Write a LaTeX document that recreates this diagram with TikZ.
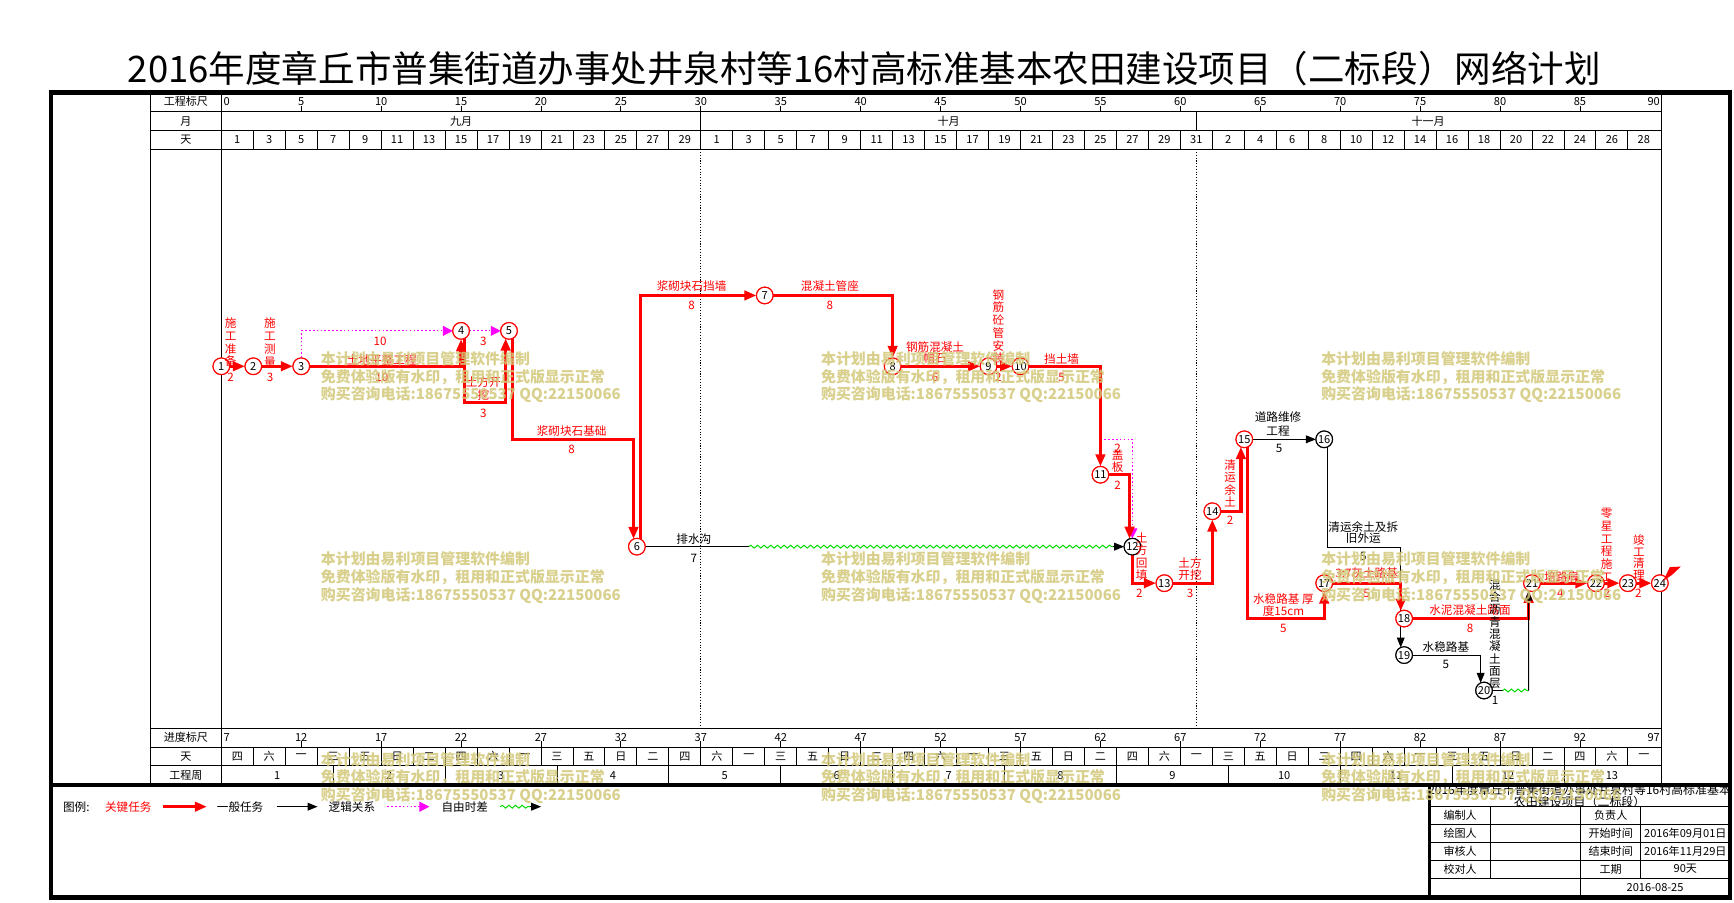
\documentclass[tikz,border=0pt]{standalone}
\usepackage{fontspec}
\setmainfont{Noto Sans CJK SC}
\usetikzlibrary{arrows.meta,decorations.pathmorphing}
\definecolor{crc}{RGB}{255,0,0}
\definecolor{mgc}{RGB}{255,0,255}
\definecolor{gwc}{RGB}{0,220,0}
\definecolor{wmc}{RGB}{210,200,120}
\def\dx{14.4444}
\begin{document}
\begin{tikzpicture}[x=1pt,y=-1pt,
 every node/.style={inner sep=0pt, outer sep=0pt, font=\fontsize{10.5}{11.5}\selectfont},
 grid/.style={line width=0.8pt},
 crit/.style={draw=crc, line width=3pt, -{Triangle[length=11pt,width=8.5pt]}},
 gen/.style={draw=black, line width=0.9pt, -{Triangle[length=9pt,width=7pt]}},
 genline/.style={draw=black, line width=0.9pt},
 lgc/.style={draw=mgc, line width=1pt, dash pattern=on 1.5pt off 2pt, -{Triangle[length=9pt,width=9pt]}},
 wav/.style={draw=gwc, line width=0.9pt, decorate, decoration={snake, segment length=6pt, amplitude=1.3pt}},
 cn/.style={circle, draw=crc, line width=1pt, fill=white, minimum size=15pt, inner sep=0pt, font=\fontsize{10}{10}\selectfont},
 gn/.style={cn, draw=black},
 rl/.style={text=crc},
 vl/.style={align=center},
 hd/.style={font=\fontsize{10}{11}\selectfont},
 wm/.style={anchor=west, align=left, text=wmc, font=\fontsize{13.5}{16}\selectfont\bfseries, opacity=0.85}
]
\useasboundingbox (0,0) rectangle (1567,816);
\fill[white] (0,0) rectangle (1567,816);

% title
\node[font=\fontsize{33}{36}\selectfont] (title) at (781,62) {2016年度章丘市普集街道办事处井泉村等16村高标准基本农田建设项目（二标段）网络计划};

% ---------- table grid ----------
\foreach \yy in {101,118,135,658,675,692} \draw[grid] (136,\yy) -- (1501,\yy);
\foreach \xx in {136,200,1501} \draw[grid] (\xx,83.5) -- (\xx,709.5);
\foreach \t in {30,61} \draw[grid] ({200+\t*\dx},101) -- ({200+\t*\dx},118);
\foreach \k in {1,...,44} {
  \draw[grid] ({200+2*\k*\dx},118) -- ({200+2*\k*\dx},135);
  \draw[grid] ({200+2*\k*\dx},675) -- ({200+2*\k*\dx},692);
}
\foreach \k in {1,...,12} \draw[grid] ({200+7*\k*\dx},692) -- ({200+7*\k*\dx},709.5);
\foreach \k in {1,...,17} {
  \draw[grid] ({200+5*\k*\dx},96) -- ({200+5*\k*\dx},101);
  \draw[grid] ({200+5*\k*\dx},670) -- ({200+5*\k*\dx},675);
}
\foreach \t in {30,61} \draw[line width=0.7pt, dash pattern=on 1pt off 1.5pt] ({200+\t*\dx},135) -- ({200+\t*\dx},658);

% header labels
\node[hd] (h1) at (168,92) {工程标尺};
\node[hd] (h2) at (168,109.5) {月};
\node[hd] (h3) at (168,126.5) {天};
\node[hd] (h4) at (168,666.5) {进度标尺};
\node[hd] (h5) at (168,683.5) {天};
\node[hd] (h6) at (168,700.7) {工程周};
\node[hd, anchor=west] (s0) at (202,92) {0};
\node[hd, anchor=east] (s90) at (1500,92) {90};
\foreach \k [evaluate=\k as \v using int(5*\k)] in {1,...,17}
  \node[hd] (s\k) at ({200+5*\k*\dx},92) {\v};
\node[hd, anchor=west] (p0) at (202,666.5) {7};
\node[hd, anchor=east] (p90) at (1500,666.5) {97};
\foreach \k [evaluate=\k as \v using int(7+5*\k)] in {1,...,17}
  \node[hd] (p\k) at ({200+5*\k*\dx},666.5) {\v};
\node[hd] (m9) at ({200+15*\dx},109.5) {九月};
\node[hd] (m10) at ({200+45.5*\dx},109.5) {十月};
\node[hd] (m11) at ({200+75.5*\dx},109.5) {十一月};
\foreach \lab [count=\i from 0] in {1,3,5,7,9,11,13,15,17,19,21,23,25,27,29,1,3,5,7,9,11,13,15,17,19,21,23,25,27,29,31,2,4,6,8,10,12,14,16,18,20,22,24,26,28}
  \node[hd] (dy\i) at ({200+(2*\i+1)*\dx},126.5) {\lab};
\foreach \lab [count=\i from 0] in {四,六,一,三,五,日,二,四,六,一,三,五,日,二,四,六,一,三,五,日,二,四,六,一,三,五,日,二,四,六,一,三,五,日,二,四,六,一,三,五,日,二,四,六,一}
  \node[hd] (wd\i) at ({200+(2*\i+1)*\dx},683.5) {\lab};
\foreach \k in {1,...,12}
  \node[hd] (wk\k) at ({200+(7*\k-3.5)*\dx},700.7) {\k};
\node[hd] (wk13) at ({200+87*\dx},700.7) {13};

% ---------- network nodes ----------
\node[cn] (n1) at (200,331) {1};
\node[cn] (n2) at ({200+2*\dx},331) {2};
\node[cn] (n3) at ({200+5*\dx},331) {3};
\node[cn] (n4) at ({200+15*\dx},299) {4};
\node[cn] (n5) at ({200+18*\dx},299) {5};
\node[cn] (n6) at ({200+26*\dx},494) {6};
\node[cn] (n7) at ({200+34*\dx},267) {7};
\node[cn] (n8) at ({200+42*\dx},331) {8};
\node[cn] (n9) at ({200+48*\dx},331) {9};
\node[cn] (n10) at ({200+50*\dx},331) {10};
\node[cn] (n11) at ({200+55*\dx},429) {11};
\node[gn] (n12) at ({200+57*\dx},494) {12};
\node[cn] (n13) at ({200+59*\dx},527) {13};
\node[cn] (n14) at ({200+62*\dx},462) {14};
\node[cn] (n15) at ({200+64*\dx},397) {15};
\node[gn] (n16) at ({200+69*\dx},397) {16};
\node[cn] (n17) at ({200+69*\dx},527) {17};
\node[cn] (n18) at ({200+74*\dx},559) {18};
\node[gn] (n19) at ({200+74*\dx},592) {19};
\node[gn] (n20) at ({200+79*\dx},624) {20};
\node[cn] (n21) at ({200+82*\dx},527) {21};
\node[cn] (n22) at ({200+86*\dx},527) {22};
\node[cn] (n23) at ({200+88*\dx},527) {23};
\node[cn] (n24) at ({200+90*\dx},527) {24};

% bend coordinates
\coordinate (c45) at (438,364);
\coordinate (c56) at (520,397);
\coordinate (c1112) at (1010,397);
\coordinate (c1517) at (1160,559);
\coordinate (c1619) at (1232,494.6);
\coordinate (c6a) at ({200+33*\dx},494);
\coordinate (c6b) at (1006,494);
\coordinate (c20a) at (1358,624);
\coordinate (c20b) at (1381.4,624);

\begin{scope}[on background layer/.style={}]
% logic links
\draw[lgc] (n3) |- (n4);
\draw[lgc] (n4) -- (n5);
\draw[lgc] (n11) |- (c1112) -| (n12);
% general tasks
\draw[gen] (n15) -- (n16);
\draw[gen] (n16.-66) |- (c1619) -| (n19.114);
\draw[gen] (n19) -| (n20.114);
\draw[genline] (n6) -- (c6a);
\draw[wav] (c6a) -- (c6b);
\draw[gen] (c6b) -- (n12);
% critical tasks
\draw[crit] (n1) -- (n2);
\draw[crit] (n2) -- (n3);
\draw[crit] (n3) -| (n4);
\draw[crit] (n4.-66) |- (c45) -| (n5.-114);
\draw[crit] (n5.-66) |- (c56) -| (n6.114);
\draw[crit] (n6.66) |- (n7);
\draw[crit] (n7) -| (n8);
\draw[crit] (n8) -- (n9);
\draw[crit] (n9) -- (n10);
\draw[crit] (n10) -| (n11);
\draw[crit] (n11) -| (n12.110);
\draw[crit] (n12) |- (n13);
\draw[crit] (n13) -| (n14);
\draw[crit] (n14) -| (n15.-114);
\draw[crit] (n15.-66) |- (c1517) -| (n17);
\draw[crit] (n17) -| (n18.114);
\draw[crit] (n18) -| (n21.-114);
\draw[crit] (n21) -- (n22);
\draw[crit] (n22) -- (n23);
\draw[crit] (n23) -- (n24);
% free float 20 -> 21
\draw[genline] (n20) -- (c20a);
\draw[wav] (c20a) -- (c20b);
\draw[gen] (c20b) -- (n21.-114);
\end{scope}

% redraw nodes on top
\foreach \n/\s in {1/cn,2/cn,3/cn,4/cn,5/cn,6/cn,7/cn,8/cn,9/cn,10/cn,11/cn,12/gn,13/cn,14/cn,15/cn,16/gn,17/cn,18/cn,19/gn,20/gn,21/cn,22/cn,23/cn,24/cn}
  \node[\s] (r\n) at (n\n) {\n};

% end flag
\fill[crc] (1503,525) -- (1509,512.5) -- (1519,512) -- (1511,519.5) -- cycle;

% ---------- edge labels ----------
\begin{scope}[every node/.append style={text=crc}]
\node[vl] (la1) at (208.5,309.5) {施\\工\\准\\备};
\node (da1) at (208.5,341) {2};
\node[vl] (la2) at (244,309.5) {施\\工\\测\\量};
\node (da2) at (244,341) {3};
\node (la3) at (345,325.3) {土地平整工程};
\node (da3) at (345,341) {10};
\node (lg34) at (343.4,308.2) {10};
\node (lg45) at (436.8,308.2) {3};
\node[vl, font=\fontsize{10.5}{12}\selectfont] (la4) at (436.8,351) {土方开\\挖};
\node (da4) at (436.8,373.5) {3};
\node (la5) at (516.6,389.2) {浆砌块石基础};
\node (da5) at (516.6,406) {8};
\node (la6) at (625,258.5) {浆砌块石挡墙};
\node (da6) at (625,275.6) {8};
\node (la7) at (750,258.5) {混凝土管座};
\node (da7) at (750,275.6) {8};
\node[vl, font=\fontsize{10.5}{10}\selectfont] (la8) at (845,318.9) {钢筋混凝土\\帽石};
\node (da8) at (845,341) {6};
\node[vl] (la9) at (902.2,295.2) {钢\\筋\\砼\\管\\安\\装};
\node (da9) at (902.2,341) {2};
\node (la10) at (959.4,324.7) {挡土墙};
\node (da10) at (959.4,341) {5};
\node (lg1112) at (1010,405.2) {2};
\node[vl, font=\fontsize{10.5}{10.5}\selectfont] (la11) at (1010,416.5) {盖\\板};
\node (da11) at (1010,438.3) {2};
\node[vl, font=\fontsize{10.5}{11}\selectfont] (la12) at (1031.7,503) {土\\方\\回\\填};
\node (da12) at (1029.6,536.2) {2};
\node[vl, font=\fontsize{10.5}{10.5}\selectfont] (la13) at (1075.4,514.4) {土方\\开挖};
\node (da13) at (1075.4,536.2) {3};
\node[vl, font=\fontsize{10.5}{11}\selectfont] (la14) at (1111.6,436.8) {清\\运\\余\\土};
\node (da14) at (1111.6,469.9) {2};
\node[vl, font=\fontsize{10.5}{11}\selectfont] (la15) at (1159.8,546.8) {水稳路基\ 厚\\度15cm};
\node (da15) at (1159.8,567.8) {5};
\node (la17) at (1235,518.1) {3:7灰土路基};
\node (da17) at (1235,536.2) {5};
\node (la18) at (1328.4,551.3) {水泥混凝土路面};
\node (da18) at (1328.4,567.8) {8};
\node (la21) at (1411.3,521.1) {培路肩};
\node (da21) at (1410,536.2) {4};
\node[vl] (la22) at (1452,492.5) {零\\星\\工\\程\\施\\工};
\node (da22) at (1452,536.2) {2};
\node[vl, font=\fontsize{10.5}{10.5}\selectfont] (la23) at (1481,503.8) {竣\\工\\清\\理};
\node (da23) at (1480.5,536.2) {2};
\end{scope}
\node (lb6) at (627,487) {排水沟};
\node (db6) at (627,505) {7};
\node[vl, font=\fontsize{10.5}{12}\selectfont] (lb15) at (1155,383.2) {道路维修\\工程};
\node (db15) at (1155.8,405.2) {5};
\node[vl, font=\fontsize{10.5}{10}\selectfont] (lb16) at (1232,481.5) {清运余土及拆\\旧外运};
\node (db16) at (1232,503) {5};
\node (lb19) at (1306.7,584.4) {水稳路基};
\node (db19) at (1306.7,600.4) {5};
\node[vl, font=\fontsize{10.5}{11.1}\selectfont] (lb20) at (1351,573.1) {混\\合\\沥\\青\\混\\凝\\土\\面\\层};
\node (db20) at (1351,632.6) {1};

% ---------- legend ----------
\node[anchor=west] (lgT) at (57,729) {图例:};
\node[text=crc] (lgK) at (116,729) {关键任务};
\coordinate (lk1) at (147,729); \coordinate (lk2) at (187,729);
\draw[crit] (lk1) -- (lk2);
\node (lgG) at (217,729) {一般任务};
\coordinate (lq1) at (250,729); \coordinate (lq2) at (287,729);
\draw[gen] (lq1) -- (lq2);
\node (lgL) at (318,729) {逻辑关系};
\coordinate (lm1) at (350,729); \coordinate (lm2) at (388,729);
\draw[lgc] (lm1) -- (lm2);
\node (lgF) at (420,729) {自由时差};
\coordinate (lw1) at (452,729); \coordinate (lw2) at (479,729); \coordinate (lw3) at (489,729);
\draw[wav] (lw1) -- (lw2);
\draw[gen] (lw2) -- (lw3);

% ---------- info table ----------
\foreach \yy in {728.4,744.6,760.9,777.2,793.4} \draw[grid] (1292,\yy) -- (1563,\yy);
\draw[grid] (1347,728.4) -- (1347,793.4);
\draw[grid] (1428.5,728.4) -- (1428.5,811);
\draw[grid] (1482.7,728.4) -- (1482.7,793.4);
\draw[line width=2.5pt] (1292,709.5) -- (1292,811);
\node[vl, font=\fontsize{10.8}{9.5}\selectfont] (tt) at (1427.5,719.5) {2016年度章丘市普集街道办事处井泉村等16村高标准基本\\农田建设项目（二标段）};
\node[hd] (t11) at (1319.5,736.5) {编制人};
\node[hd] (t21) at (1319.5,752.7) {绘图人};
\node[hd] (t31) at (1319.5,769) {审核人};
\node[hd] (t41) at (1319.5,785.3) {校对人};
\node[hd] (t13) at (1455.6,736.5) {负责人};
\node[hd] (t23) at (1455.6,752.7) {开始时间};
\node[hd] (t33) at (1455.6,769) {结束时间};
\node[hd] (t43) at (1455.6,785.3) {工期};
\node[hd] (t24) at (1523,752.7) {2016年09月01日};
\node[hd] (t34) at (1523,769) {2016年11月29日};
\node[hd] (t44) at (1523,785.3) {90天};
\node[hd] (t5) at (1495.7,801.7) {2016-08-25};

% ---------- watermark ----------
\foreach \wx in {290,742,1194} \foreach \wy in {341,522,703}
  \node[wm] (wm\wx\wy) at (\wx,\wy) {本计划由易利项目管理软件编制\\免费体验版有水印，租用和正式版显示正常\\购买咨询电话:18675550537 QQ:22150066};

% ---------- frame ----------
\draw[line width=3pt] (46,709.5) -- (1563.5,709.5);
\draw[line width=4pt] (46,83.5) rectangle (1563.5,811);
\end{tikzpicture}
\end{document}
